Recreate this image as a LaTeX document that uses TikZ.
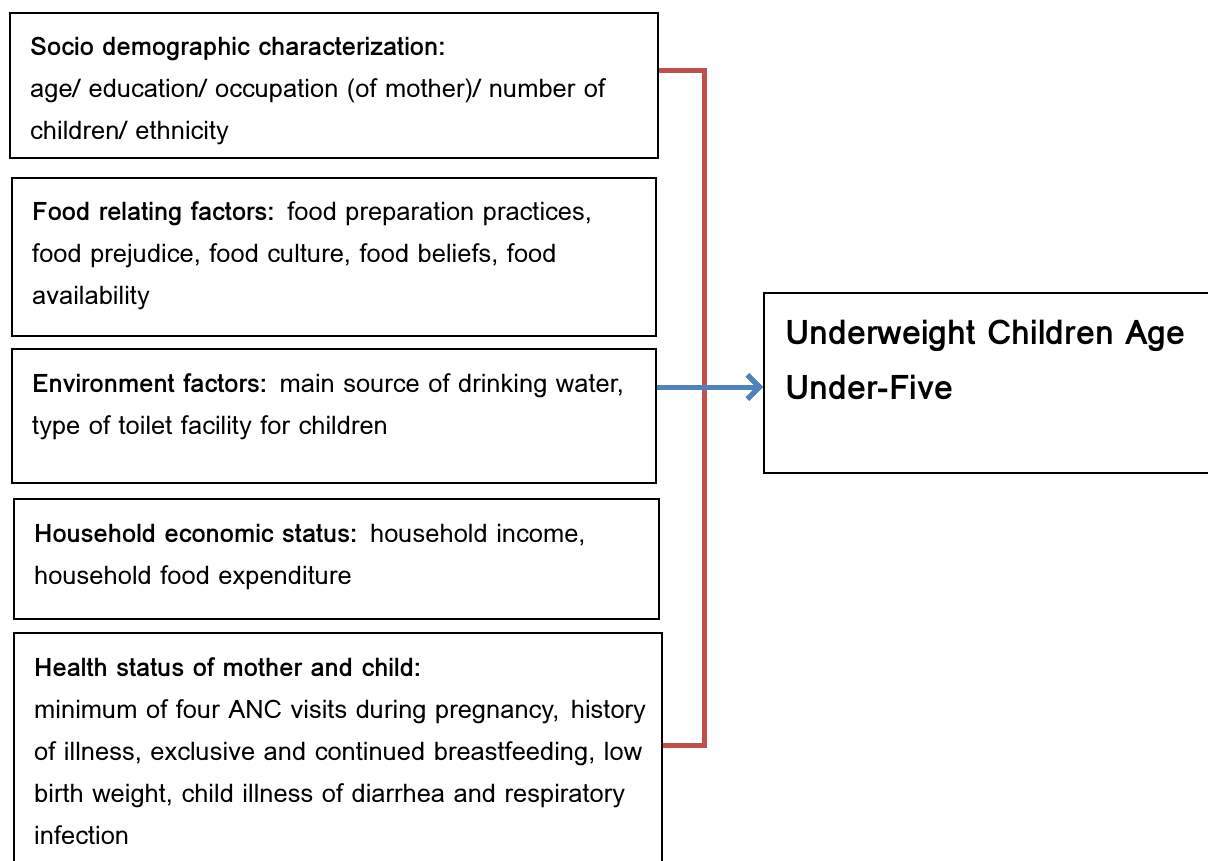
\documentclass[tikz,border=0pt]{standalone}
\usepackage{fontspec}
\setmainfont{Loma}
\usetikzlibrary{arrows.meta}
\definecolor{redline}{HTML}{C0504D}
\definecolor{blueline}{HTML}{4F81BD}
\definecolor{shadowgray}{HTML}{A0A0A0}
\begin{document}
\begin{tikzpicture}[x=1pt,y=-1pt,
  box/.style={draw, line width=1.8pt, inner sep=0pt, anchor=north west},
  txt/.style={anchor=base west, inner sep=0pt, align=left, text width=660pt, font=\fontsize{25.5}{42}\selectfont},
  headtxt/.style={anchor=base west, inner sep=0pt, align=left, text width=430pt, font=\fontsize{34}{55}\selectfont\bfseries},
  redpath/.style={draw=redline, line width=5pt},
  shadowpath/.style={draw=shadowgray, line width=5pt},
  arrowtip/.style={-{Straight Barb[length=12pt,width=24pt]}},
]
\useasboundingbox (0,0) rectangle (1208,861);
% boxes
\node[box, minimum width=648pt, minimum height=145pt] (b1) at (9,12) {};
\node[box, minimum width=644pt, minimum height=158pt] (b2) at (11,177) {};
\node[box, minimum width=644pt, minimum height=134pt] (b3) at (11,348) {};
\node[box, minimum width=645pt, minimum height=120pt] (b4) at (13,498) {};
\node[box, minimum width=648pt, minimum height=260pt] (b5) at (13,632) {};
\node[box, minimum width=460pt, minimum height=180pt] (out) at (763,292) {};
% texts
\node[txt] (t1) at ([shift={(21,44)}]b1.north west) {\textbf{Socio demographic characterization:}\\age/ education/ occupation (of mother)/ number of\\children/ ethnicity};
\node[txt] (t2) at ([shift={(21,44)}]b2.north west) {\textbf{Food relating factors:} food preparation practices,\\food prejudice, food culture, food beliefs, food\\availability};
\node[txt] (t3) at ([shift={(21,44)}]b3.north west) {\textbf{Environment factors:} main source of drinking water,\\type of toilet facility for children};
\node[txt] (t4) at ([shift={(21,44)}]b4.north west) {\textbf{Household economic status:} household income,\\household food expenditure};
\node[txt] (t5) at ([shift={(21,44)}]b5.north west) {\textbf{Health status of mother and child:}\\minimum of four ANC visits during pregnancy,\hspace{0.45em}history\\of illness, exclusive and continued breastfeeding, low\\birth weight, child illness of diarrhea and respiratory\\infection};
\node[headtxt] (t6) at ([shift={(22,52)}]out.north west) {Underweight Children Age\\Under-Five};
% bracket
\coordinate (rtop) at (704,71);
\coordinate (rbot) at (704,745);
\draw[shadowpath, shift={(0,4)}] (b1.east |- rtop) -- (rtop);
\draw[shadowpath, shift={(3,3)}] (rtop) -- (rbot) -- (b5.east |- rbot);
\draw[redpath] (b1.east |- rtop) -- (rtop) -- (rbot) -- (b5.east |- rbot);
% arrow
\coordinate (ay) at (0,387);
\draw[draw=shadowgray, line width=5pt, arrowtip, shift={(-2,4)}] (b3.east |- ay) -- (out.west |- ay);
\draw[draw=blueline, line width=5pt, arrowtip] (b3.east |- ay) -- (out.west |- ay);
\end{tikzpicture}
\end{document}
